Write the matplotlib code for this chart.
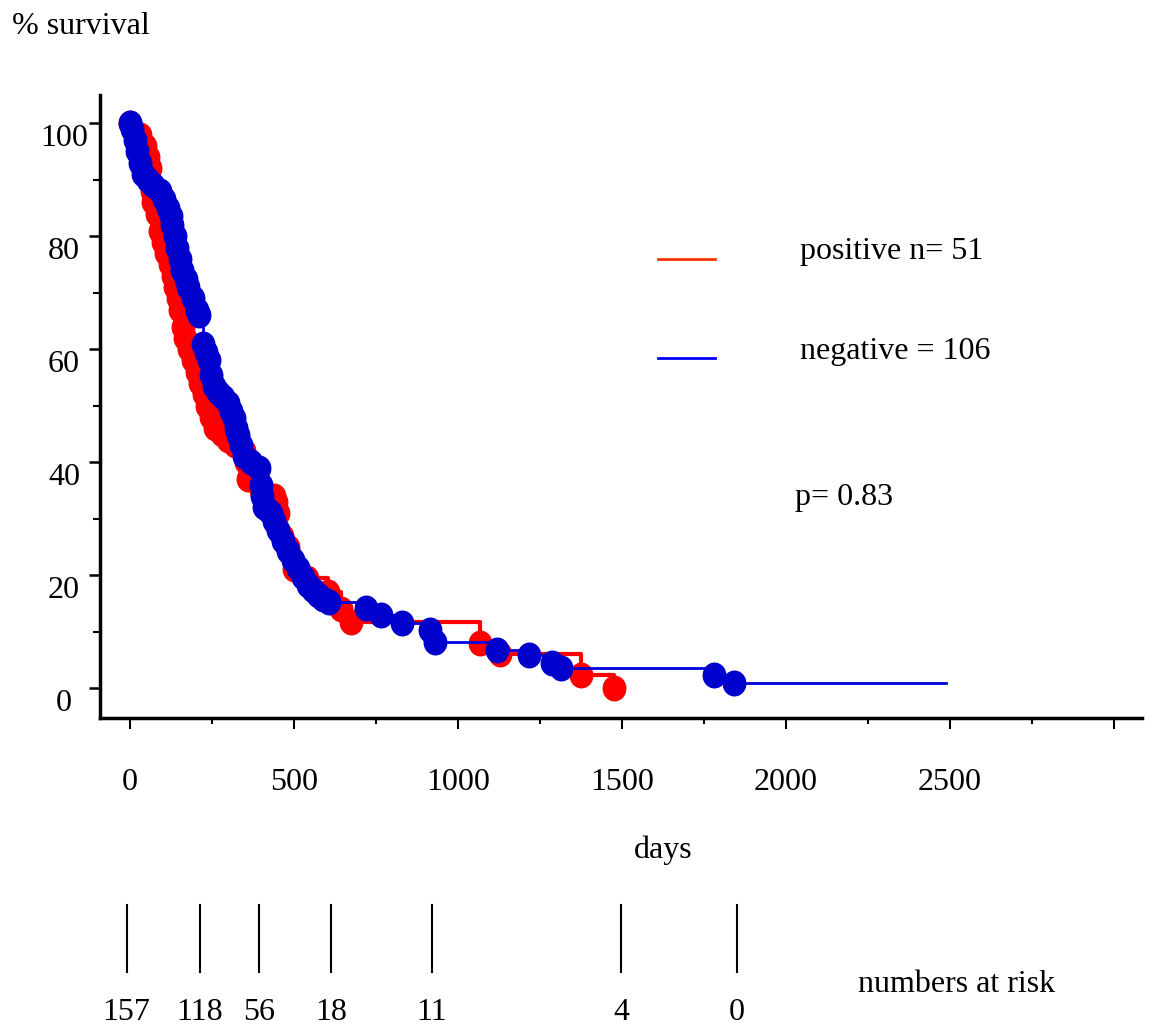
# Kaplan-Meier survival, positive vs negative
import matplotlib
matplotlib.use("Agg")
import matplotlib.pyplot as plt
import matplotlib.transforms as mtransforms
from matplotlib.path import Path
from matplotlib.ticker import FixedLocator

plt.rcParams['font.family'] = ['Liberation Serif', 'DejaVu Serif']

# positive group (n=51): event days and % survival
pos_days = [0, 30, 46, 55, 61, 67, 71, 83, 92, 101, 110, 123, 131, 138, 146, 153,
            163, 169, 180, 193, 204, 215, 225, 236, 248, 261, 280, 300, 320, 347,
            355, 359, 400, 439, 445, 451, 465, 482, 500, 540, 604, 644, 675, 1067,
            1129, 1374, 1475]
pos_surv = [100, 98, 96, 94, 92, 88, 86, 84, 81, 79, 77, 75, 73, 71, 69, 67,
            64, 62, 60, 58, 56, 54, 52, 50, 48, 46, 45, 44, 43, 42,
            40, 37, 35, 34, 33, 31, 27, 25, 21, 19.5, 17, 14, 11.7, 8,
            6, 2.4, 0]

# negative group (n=106)
neg_days = [0, 8, 15, 21, 30, 40, 55, 70, 92, 105, 117, 125, 129, 137, 144, 152,
            160, 170, 178, 192, 205, 212, 224, 232, 240, 248, 255, 270, 285, 298,
            307, 316, 324, 331, 340, 347, 370, 393, 399, 404, 408, 420, 429, 440,
            451, 466, 481, 497, 512, 528, 543, 558, 573, 590, 607, 721, 767, 828,
            914, 929, 1120, 1218, 1288, 1313, 1779, 1840]
neg_surv = [100, 99, 97, 95, 93, 91, 90, 89, 88, 86.5, 85, 83.5, 82, 80, 78, 76,
            74, 72.5, 71, 69, 67, 66, 61, 59.5, 58, 55.5, 53.5, 52.5, 51.5, 50.5,
            49, 47.8, 46, 44.8, 43, 41, 40, 39, 36, 34, 32, 31.5, 31, 29.5,
            28, 26, 24.2, 22.7, 21.2, 19.7, 18.2, 17.3, 16.5, 15.8, 15.2, 14.2, 12.9, 11.5,
            10.3, 8.1, 6.7, 5.8, 4.4, 3.5, 2.3, 0.9]
neg_last_day = 2488

# numbers at risk
risk_days = [-10, 213, 393, 613, 921, 1497, 1851]
risk_counts = ['157', '118', '56', '18', '11', '4', '0']

xticks = [0, 500, 1000, 1500, 2000, 2500, 3000]
xticklabels = ['0', '500', '1000', '1500', '2000', '2500', '']
yticks = [0, 20, 40, 60, 80, 100]

W, H = 1155, 1034
fig = plt.figure(figsize=(W / 100, H / 100), dpi=100)
ax = fig.add_axes([100 / W, 1 - 718 / H, 1042 / W, 623 / H])

fs = 23
# dots are a bit taller than wide in the original
blob = Path.unit_circle().transformed(mtransforms.Affine2D().scale(0.92, 1.0))

ax.plot(pos_days, pos_surv, drawstyle='steps-post', color='#ff0000', lw=3, zorder=2)
ax.plot(pos_days, pos_surv, ls='none', marker=blob, color='#ff0000', ms=18.7, mew=0, zorder=3)
ax.plot(neg_days + [neg_last_day], neg_surv + [neg_surv[-1]], drawstyle='steps-post',
        color='#0000dd', lw=2, zorder=4)
ax.plot(neg_days, neg_surv, ls='none', marker=blob, color='#0000cc', ms=18.7, mew=0, zorder=5)

ax.set_xlim(-91, 3085)
ax.set_ylim(-5.3, 105)
for s in ['top', 'right']:
    ax.spines[s].set_visible(False)
for s in ['left', 'bottom']:
    ax.spines[s].set_linewidth(2.5)

ax.xaxis.set_major_locator(FixedLocator(xticks))
ax.xaxis.set_minor_locator(FixedLocator([250, 750, 1250, 1750, 2250, 2750]))
ax.set_xticklabels(xticklabels, fontsize=fs)
ax.yaxis.set_major_locator(FixedLocator(yticks))
ax.yaxis.set_minor_locator(FixedLocator([10, 30, 50, 70, 90]))
ax.set_yticklabels([str(v) for v in yticks], fontsize=fs)
ax.tick_params(axis='x', which='major', length=8, width=1.5, pad=28)
ax.tick_params(axis='x', which='minor', length=4, width=1.5)
ax.tick_params(axis='y', which='major', length=8, width=1.8, pad=18)
ax.tick_params(axis='y', which='minor', length=5, width=1.5)
off = mtransforms.ScaledTranslation(0, -0.12, fig.dpi_scale_trans)
for lab in ax.get_yticklabels():
    lab.set_horizontalalignment('center')
    lab.set_transform(lab.get_transform() + off)

# legend drawn by hand
ax.plot([0.5355, 0.590], [0.737, 0.737], color='#ff3300', lw=2, transform=ax.transAxes)
ax.plot([0.5355, 0.590], [0.578, 0.578], color='#0000ff', lw=2, transform=ax.transAxes)
ax.text(0.672, 0.748, 'positive n= 51', fontsize=fs, va='center', transform=ax.transAxes)
ax.text(0.672, 0.5875, 'negative = 106', fontsize=fs, va='center', transform=ax.transAxes)
ax.text(0.667, 0.3547, 'p= 0.83', fontsize=fs, va='center', transform=ax.transAxes)

fig.text(12 / W, 1 - 27 / H, '% survival', fontsize=fs, va='center')
fig.text(663 / W, 1 - 850 / H, 'days', fontsize=fs, va='center', ha='center')
fig.text(858 / W, 1 - 985 / H, 'numbers at risk', fontsize=fs, va='center')

# numbers at risk row, placed on the day axis
trans = mtransforms.blended_transform_factory(ax.transData, fig.transFigure)
for d, c in zip(risk_days, risk_counts):
    ax.plot([d, d], [1 - 905 / H, 1 - 972 / H], color='black', lw=1.5,
            transform=trans, clip_on=False)
    ax.text(d, 1 - 1012 / H, c, fontsize=fs, ha='center', va='center',
            transform=trans, clip_on=False)

fig.savefig('out.png', dpi=100)
